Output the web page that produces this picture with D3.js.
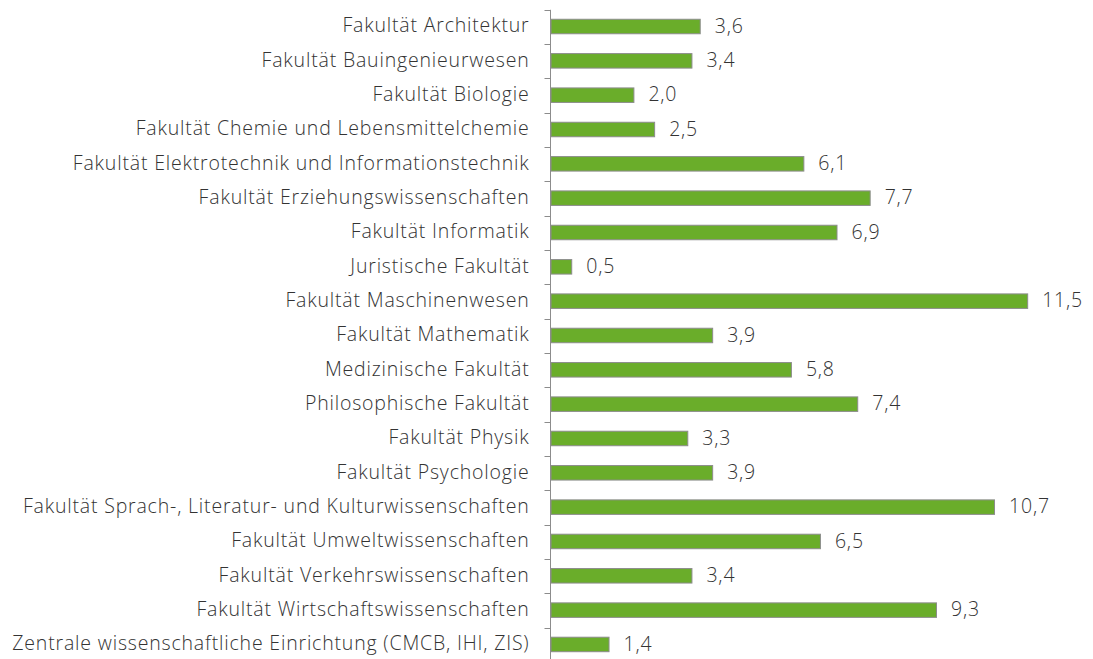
<!DOCTYPE html>
<html><head><meta charset="utf-8">
<script src="https://cdn.jsdelivr.net/npm/d3@7"></script>
<style>body{margin:0;background:#fff}svg{display:block}</style>
</head><body>
<script>
const categories = [
  "Fakultät Architektur",
  "Fakultät Bauingenieurwesen",
  "Fakultät Biologie",
  "Fakultät Chemie und Lebensmittelchemie",
  "Fakultät Elektrotechnik und Informationstechnik",
  "Fakultät Erziehungswissenschaften",
  "Fakultät Informatik",
  "Juristische Fakultät",
  "Fakultät Maschinenwesen",
  "Fakultät Mathematik",
  "Medizinische Fakultät",
  "Philosophische Fakultät",
  "Fakultät Physik",
  "Fakultät Psychologie",
  "Fakultät Sprach-, Literatur- und Kulturwissenschaften",
  "Fakultät Umweltwissenschaften",
  "Fakultät Verkehrswissenschaften",
  "Fakultät Wirtschaftswissenschaften",
  "Zentrale wissenschaftliche Einrichtung (CMCB, IHI, ZIS)"
];
const values = [3.6,3.4,2.0,2.5,6.1,7.7,6.9,0.5,11.5,3.9,5.8,7.4,3.3,3.9,10.7,6.5,3.4,9.3,1.4];

const W = 1093, H = 659;
const x0 = 550.5, plotTop = 9.8, band = 34.33;
const svg = d3.select("body").append("svg").attr("width", W).attr("height", H);
const x = d3.scaleLinear().domain([0, 1]).range([x0, x0 + 41.45]);
const yb = d3.scaleBand().domain(categories).range([plotTop, plotTop + band * categories.length]);

// bars
svg.append("g").selectAll("rect").data(values).join("rect")
  .attr("x", x(0) + 0.5)
  .attr("y", (d, i) => yb(categories[i]) + band / 2 - 7.7)
  .attr("width", d => x(d) - x(0))
  .attr("height", 14.5)
  .attr("fill", "#6aad2a")
  .attr("stroke", "#8c8c8c")
  .attr("stroke-width", 1);

// axis
const ax = svg.append("g");
ax.append("line").attr("x1", x0).attr("x2", x0).attr("y1", plotTop).attr("y2", H + 5)
  .attr("stroke", "#8c8c8c").attr("stroke-width", 1);
ax.selectAll("line.t").data(d3.range(categories.length + 1)).join("line").attr("class", "t")
  .attr("x1", x0 - 6).attr("x2", x0)
  .attr("y1", i => Math.round(plotTop + i * band) + 0.5)
  .attr("y2", i => Math.round(plotTop + i * band) + 0.5)
  .attr("stroke", "#8c8c8c").attr("stroke-width", 1);

// category labels
svg.append("g").selectAll("text").data(categories).join("text")
  .attr("x", 529.5)
  .attr("y", d => yb(d) + band / 2)
  .attr("dy", "0.28em")
  .attr("text-anchor", "end")
  .attr("font-family", "'Open Sans', sans-serif")
  .attr("font-weight", 300)
  .attr("font-size", 19.5)
  .attr("letter-spacing", 0.82)
  .attr("fill", "#333")
  .text(d => d);

// value labels
svg.append("g").selectAll("text").data(values).join("text")
  .attr("x", d => x(d) + 15)
  .attr("y", (d, i) => yb(categories[i]) + band / 2)
  .attr("dy", "0.3em")
  .attr("font-family", "'Open Sans', sans-serif")
  .attr("font-weight", 300)
  .attr("font-size", 19.5)
  .attr("letter-spacing", 0.82)
  .attr("fill", "#333")
  .text(d => d.toFixed(1).replace(".", ","));
</script>
</body></html>
